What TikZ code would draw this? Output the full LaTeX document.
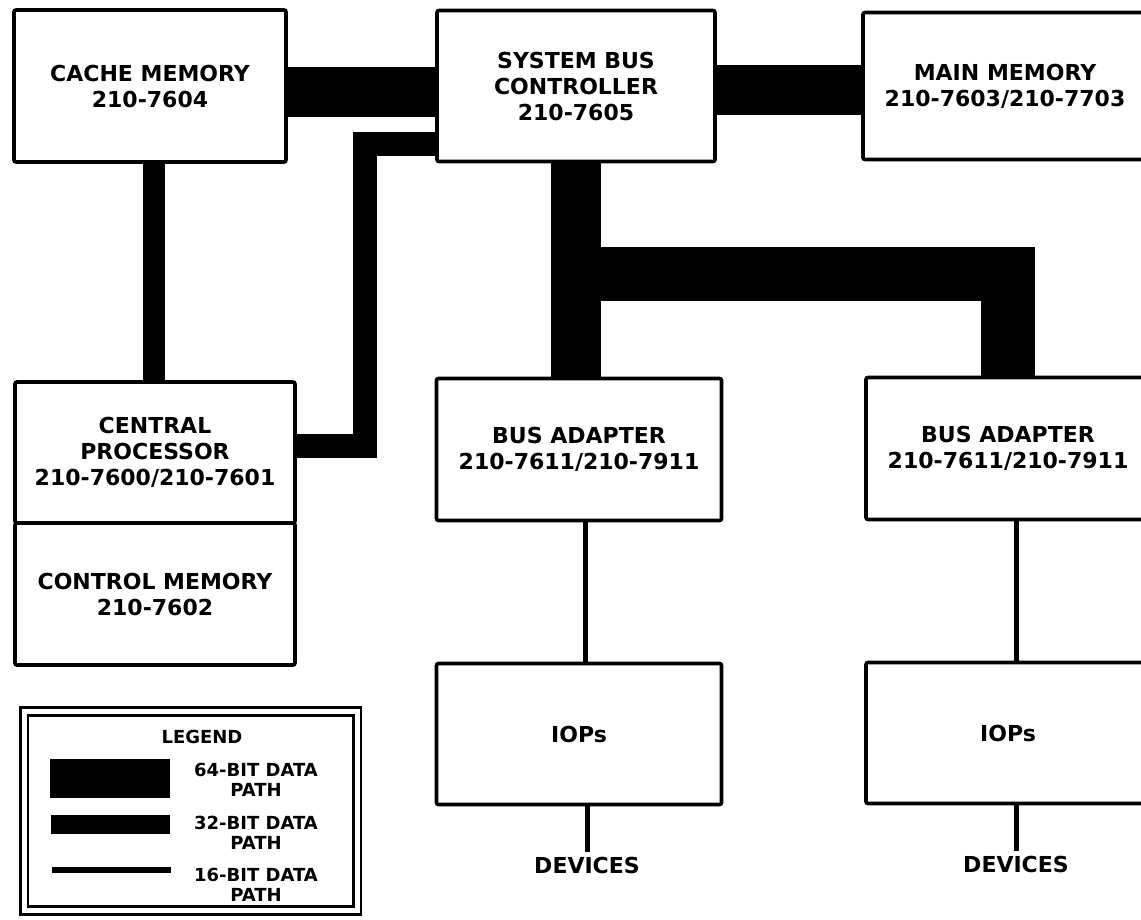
\documentclass[tikz,border=0pt]{standalone}
\usepackage{fontspec}
\setsansfont{DejaVu Sans}
\usepackage{tikz}
\usetikzlibrary{positioning}
\tikzset{
    blockbase/.style={
        rectangle,
        rounded corners=2pt,
        draw=black,
        line width=3.6pt,
        align=center,
        inner sep=0pt,
        outer sep=0pt,
        font=\sffamily\bfseries\fontsize{22}{26}\selectfont
    },
    unitnode/.style={blockbase, minimum width=280pt, minimum height=151pt},
    tagtext/.style={inner sep=0pt, outer sep=0pt, align=center, font=\sffamily\bfseries\fontsize{22}{26}\selectfont},
    legendbox/.style={rectangle, draw=black, line width=2.8pt, double=white, double distance=5pt, minimum width=333pt, minimum height=199pt},
    legendtext/.style={inner sep=0pt, align=center, font=\sffamily\bfseries\fontsize{18}{20.5}\selectfont},
    bus64/.style={draw=black, line width=50pt},
    bus32/.style={draw=black, line width=24pt},
    bus16/.style={draw=black, line width=5pt},
}
\begin{document}
\begin{tikzpicture}[x=1pt, y=-1pt]
    \useasboundingbox (0,0) rectangle (1141,919);

    % units
    \node[unitnode, minimum width=272pt, minimum height=152pt] (cache) at (150,86) {CACHE MEMORY\\210-7604};
    \node[unitnode, right=151pt of cache, minimum width=278pt] (sbc) {SYSTEM BUS\\CONTROLLER\\210-7605};
    \node[unitnode, right=148pt of sbc, minimum width=284pt, minimum height=147pt] (mainmem) {MAIN MEMORY\\210-7603/210-7703};
    \node[unitnode, below=220pt of cache, xshift=5pt, minimum height=141pt] (cpu) {CENTRAL\\PROCESSOR\\210-7600/210-7601};
    \node[unitnode, below=0pt of cpu, minimum height=142pt] (ctrlmem) {CONTROL MEMORY\\210-7602};
    \node[unitnode, below=217pt of sbc, xshift=3pt, minimum width=285pt, minimum height=142pt] (busadp1) {BUS ADAPTER\\210-7611/210-7911};
    \node[unitnode, below=218pt of mainmem, xshift=3pt, minimum width=284pt, minimum height=142pt] (busadp2) {BUS ADAPTER\\210-7611/210-7911};
    \node[unitnode, below=143pt of busadp1, minimum width=285pt, minimum height=141pt] (iops1) {IOPs};
    \node[unitnode, below=143pt of busadp2, minimum width=284pt, minimum height=141pt] (iops2) {IOPs};
    \node[tagtext, below=53pt of iops1, xshift=8pt] (devices1) {DEVICES};
    \node[tagtext, below=53pt of iops2, xshift=8pt] (devices2) {DEVICES};

    % 64-bit paths
    \draw[bus64] ([yshift=-6pt]cache.east) -- ([yshift=-6pt]cache.east -| sbc.west);
    \draw[bus64] ([yshift=-4pt]sbc.east) -- ([yshift=-4pt]sbc.east -| mainmem.west);
    \draw[bus64] (sbc.south) -- (sbc.south |- busadp1.north);
    \coordinate[below=112pt of sbc.south] (tee);
    \draw[bus64, line width=54pt] (tee) -| (busadp2.north);

    % 32-bit paths
    \draw[bus32, line width=22pt] ([xshift=4pt]cache.south) -- ([xshift=4pt]cache.south |- cpu.north);
    \draw[bus32] ([yshift=-58pt]sbc.west) -| ([xshift=70pt,yshift=7pt]cpu.east) -- ([yshift=7pt]cpu.east);

    % 16-bit paths
    \draw[bus16] ([xshift=6pt]busadp1.south) -- ([xshift=6pt]busadp1.south |- iops1.north);
    \draw[bus16] ([xshift=8pt]busadp2.south) -- ([xshift=8pt]busadp2.south |- iops2.north);
    \draw[bus16] (devices1.north |- iops1.south) -- ([yshift=6pt]devices1.north);
    \draw[bus16] (devices2.north |- iops2.south) -- ([yshift=6pt]devices2.north);

    % legend
    \node[legendbox] (legend) at (190.5,811) {};
    \node[legendtext] (legendtitle) at (202,737) {LEGEND};
    \draw[bus64, line width=39pt] (50,778.5) -- (170,778.5);
    \draw[bus32, line width=19pt] (51,824.5) -- (170,824.5);
    \draw[bus16, line width=6pt] (52,870) -- (171,870);
    \node[legendtext] (lbl64) at (256,780) {64-BIT DATA\\PATH};
    \node[legendtext] (lbl32) at (256,833) {32-BIT DATA\\PATH};
    \node[legendtext] (lbl16) at (256,885) {16-BIT DATA\\PATH};
\end{tikzpicture}
\end{document}
